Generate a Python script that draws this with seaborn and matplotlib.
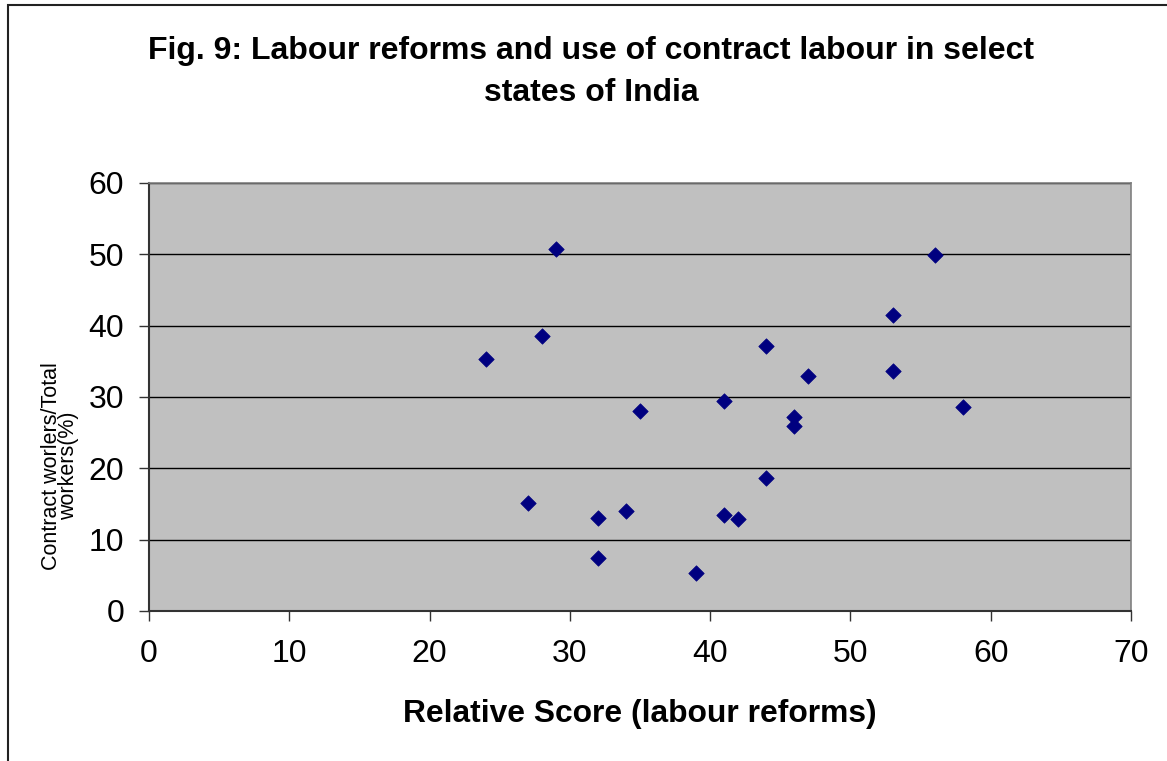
import matplotlib
matplotlib.use("Agg")
import matplotlib.pyplot as plt
import seaborn as sns
import pandas as pd
from matplotlib.patches import Rectangle

# relative labour reform score per state
scores = [24, 27, 28, 29, 32, 32, 34, 35, 39, 41, 41, 42, 44, 44, 46, 46, 47, 53, 53, 56, 58]
# contract workers / total workers (%)
contract_share = [35.3, 15.1, 38.6, 50.7, 13.1, 7.5, 14.0, 28.0, 5.3, 29.4, 13.4, 12.9,
                  37.2, 18.7, 27.2, 25.9, 33.0, 41.5, 33.6, 49.9, 28.6]

x_ticks = [0, 10, 20, 30, 40, 50, 60, 70]
y_ticks = [0, 10, 20, 30, 40, 50, 60]

df = pd.DataFrame({"score": scores, "share": contract_share})

sns.set_theme(style="white")
plt.rcParams["font.family"] = ["Liberation Sans", "DejaVu Sans"]
plt.rcParams["text.color"] = "black"

fig = plt.figure(figsize=(11.67, 7.61), dpi=100)
ax = fig.add_axes([149 / 1167, 150 / 761, 982 / 1167, 428 / 761])
ax.set_facecolor("#C0C0C0")

sns.scatterplot(data=df, x="score", y="share", marker="D", s=62,
                color="#000080", edgecolor="#000080", linewidth=0.5, ax=ax, zorder=3)

ax.set_xlim(0, 70)
ax.set_ylim(0, 60)
ax.set_xticks(x_ticks)
ax.set_yticks(y_ticks)
ax.yaxis.grid(True, color="black", linewidth=1.0)
ax.xaxis.grid(False)
ax.set_axisbelow(True)

for side in ["top", "right"]:
    ax.spines[side].set_color("#808080")
    ax.spines[side].set_linewidth(1.2)
for side in ["left", "bottom"]:
    ax.spines[side].set_color("#333333")
    ax.spines[side].set_linewidth(1.5)

ax.tick_params(axis="both", direction="out", length=7.2, width=1.0, color="#333333",
               labelsize=23, labelcolor="black", bottom=True, left=True)
ax.tick_params(axis="x", pad=12.7)
ax.tick_params(axis="y", pad=10.8)

ax.set_xlabel("")
ax.set_ylabel("")

fig.text(640 / 1167, 1 - 714 / 761, "Relative Score (labour reforms)", fontsize=22.9,
         fontweight="bold", ha="center", va="center")
fig.text(60 / 1167, 1 - 466 / 761, "Contract worlers/Total\nworkers(%)", fontsize=15.5,
         rotation=90, ha="center", va="center", linespacing=0.8)
fig.text(591 / 1167, 1 - 72 / 761, "Fig. 9: Labour reforms and use of contract labour in select\nstates of India",
         fontsize=23, fontweight="bold", ha="center", va="center", linespacing=1.48)

# outer chart border
fig.patches.append(Rectangle((8 / 1167, -0.1), 1.2, 1 - 5 / 761 + 0.1, transform=fig.transFigure,
                             fill=False, edgecolor="#222222", linewidth=1.5))

fig.savefig("out.png", dpi=100)
